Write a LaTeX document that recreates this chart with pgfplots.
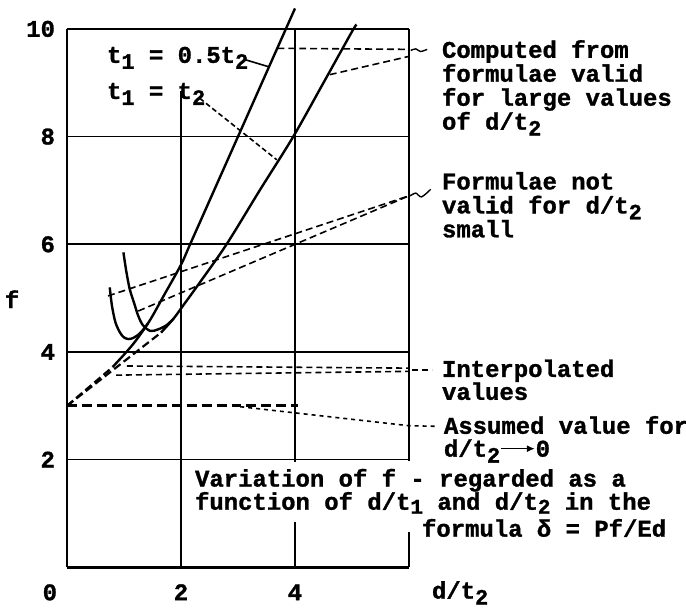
\documentclass[border=0pt]{standalone}
\usepackage{pgfplots}
\pgfplotsset{compat=1.18}
\usetikzlibrary{arrows.meta}
\usepackage{fontspec}
\setmainfont{Liberation Mono}[BoldFeatures={FakeBold=1.2}]

% lowered typewriter subscript
\newcommand\sub[1]{\raisebox{-3pt}{\fontsize{11}{11}\selectfont #1}}
\newcommand\subs[1]{\raisebox{-2pt}{\fontsize{10.5}{10.5}\selectfont #1}}
\newcommand\arr{\tikz[baseline=-4pt]\draw[line width=0.8pt,-{Latex[length=4pt,width=3.5pt]}](0,0)--(17pt,0);}

\tikzset{
  lead/.style={line width=0.8pt, dash pattern=on 3.5pt off 2pt},
  curve/.style={line width=1.2pt, smooth},
  interp/.style={line width=1.1pt, dash pattern=on 4pt off 2pt},
}

\begin{document}
\begin{tikzpicture}[font=\fontsize{12}{12}\selectfont\bfseries]
\begin{axis}[
  scale only axis, width=171.5pt, height=270pt,
  xmin=0, xmax=6, ymin=0, ymax=10,
  axis lines=left,
  axis line style={-, line width=1pt},
  x axis line style={line width=1.6pt},
  xtick={0,2,4},
  xticklabels={\makebox[0pt][r]{0\hspace{5pt}},2,4},
  ytick={2,4,6,8,10},
  major tick length=0pt,
  ymajorgrids,
  grid style={black, line width=0.8pt},
  ticklabel style={font=\fontsize{12}{12}\selectfont\bfseries},
  xticklabel style={anchor=base, yshift=-16.5pt},
  yticklabel style={anchor=east, xshift=-2.5pt},
  /pgf/number format/assume math mode=true,
  clip=false,
]
% vertical grid lines and right border, broken where the text sits
\addplot[black, line width=0.8pt] coordinates {(2,0) (2,8.85)};
\addplot[black, line width=0.8pt] coordinates {(4,0) (4,0.85)};
\addplot[black, line width=0.8pt] coordinates {(4,1.96) (4,10)};
\addplot[black, line width=1pt] coordinates {(6,0) (6,0.66)};
\addplot[black, line width=1pt] coordinates {(6,1.98) (6,10)};

% t1 = 0.5 t2
\addplot[curve] coordinates {(0.8,3.72) (1.0,3.95) (1.2,4.2) (1.45,4.58) (1.7,5.05) (2.0,5.62) (2.16,6.0) (2.58,7.0) (3.0,8.0) (3.42,9.0) (3.84,10.0) (4.0,10.38)};
\addplot[interp] coordinates {(0,3) (0.8,3.72)};
\addplot[curve] coordinates {(0.75,5.2) (0.79,4.85) (0.85,4.55) (0.93,4.36) (1.0,4.27) (1.08,4.24) (1.16,4.26) (1.25,4.32) (1.35,4.43) (1.42,4.53)};

% t1 = t2
\addplot[curve] coordinates {(1.65,4.36) (1.87,4.62) (2.05,4.88) (2.33,5.29) (2.8,6.0) (3.38,7.0) (3.97,8.0) (4.5,9.0) (5.0,9.95) (5.08,10.08)};
\addplot[interp] coordinates {(0,3) (1.65,4.36)};
\addplot[curve] coordinates {(0.99,5.85) (1.04,5.5) (1.1,5.17) (1.18,4.9) (1.25,4.67) (1.33,4.5) (1.46,4.39) (1.6,4.42) (1.75,4.5) (1.87,4.62)};

% assumed value at d/t2 -> 0
\addplot[line width=1.4pt, dash pattern=on 5pt off 2.5pt] coordinates {(0,3) (4.05,3)};

% leaders
\addplot[lead] coordinates {(3.69,9.64) (6.0,9.62)};
\addplot[lead] coordinates {(4.61,9.15) (6.0,9.49)};
\addplot[line width=0.7pt, smooth] coordinates {(6.03,9.6) (6.12,9.63) (6.2,9.58) (6.32,9.62)};
\addplot[lead] coordinates {(0.72,5.04) (6.0,6.9)};
\addplot[lead] coordinates {(1.25,4.76) (6.0,6.9)};
\addplot[line width=0.7pt, smooth] coordinates {(6.02,6.9) (6.12,6.95) (6.22,6.88) (6.38,7.02)};
\addplot[lead, dash pattern=on 3pt off 2pt] coordinates {(1.05,3.74) (6.0,3.70)};
\addplot[lead, dash pattern=on 3pt off 2pt] coordinates {(0.86,3.57) (6.0,3.64)};
\addplot[lead, dash pattern=on 3pt off 2pt] coordinates {(6.05,3.67) (6.4,3.67)};
\addplot[lead, dash pattern=on 2pt off 2pt] coordinates {(2.9,3.0) (6.0,2.63) (6.45,2.62)};
\addplot[line width=0.8pt] coordinates {(3.12,9.43) (3.53,9.30)};
\addplot[lead, dash pattern=on 2.5pt off 1.5pt] coordinates {(2.33,8.71) (3.68,7.57)};

% texts
\node[anchor=base west] at (axis cs:0.579,9.37) {t\sub{1} = 0.5t\sub{2}};
\node[anchor=base west] at (axis cs:0.579,8.70) {t\sub{1} = t\sub{2}};

\node[anchor=base west] at (axis cs:6.456,9.463) {Computed from};
\node[anchor=base west] at (axis cs:6.456,9.019) {formulae valid};
\node[anchor=base west] at (axis cs:6.456,8.574) {for large values};
\node[anchor=base west] at (axis cs:6.456,8.130) {of d/t\sub{2}};

\node[anchor=base west] at (axis cs:6.456,7.019) {Formulae not};
\node[anchor=base west] at (axis cs:6.456,6.574) {valid for d/t\sub{2}};
\node[anchor=base west] at (axis cs:6.456,6.130) {small};

\node[anchor=base west] at (axis cs:6.456,3.537) {Interpolated};
\node[anchor=base west] at (axis cs:6.456,3.111) {values};

\node[anchor=base west] at (axis cs:6.49,2.481) {Assumed value for};
\node[anchor=base west] at (axis cs:6.49,2.056) {d/t\sub{2}\arr 0};

\node[anchor=base west] at (axis cs:2.123,1.50) {Variation of f - regarded as a};
\node[anchor=base west] at (axis cs:2.123,1.07) {function of d/t\subs{1} and d/t\subs{2} in the};
\node[anchor=base west] at (axis cs:6.105,0.57) {formula δ = Pf/Ed};

\node at (axis cs:-0.965,4.98) {f};
\node[anchor=base west] at (axis cs:6.28,-0.58) {d/t\sub{2}};

\coordinate (bbsw) at (axis cs:-1.1754,-0.796);
\coordinate (bbne) at (axis cs:10.86,10.537);
\end{axis}
\pgfresetboundingbox
\path (bbsw) rectangle (bbne);
\end{tikzpicture}
\end{document}
